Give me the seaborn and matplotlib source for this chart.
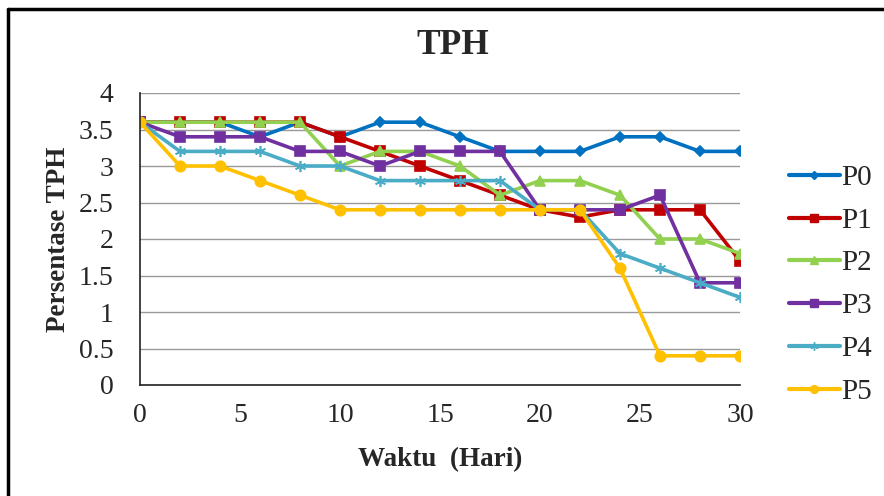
import matplotlib
matplotlib.use("Agg")
import matplotlib.pyplot as plt
import matplotlib.ticker as tkr
from matplotlib.lines import Line2D
import pandas as pd
import seaborn as sns

hari = [0, 2, 4, 6, 8, 10, 12, 14, 16, 18, 20, 22, 24, 26, 28, 30]
p0 = [3.6, 3.6, 3.6, 3.4, 3.6, 3.4, 3.6, 3.6, 3.4, 3.2, 3.2, 3.2, 3.4, 3.4, 3.2, 3.2]
p1 = [3.6, 3.6, 3.6, 3.6, 3.6, 3.4, 3.2, 3.0, 2.8, 2.6, 2.4, 2.3, 2.4, 2.4, 2.4, 1.7]
p2 = [3.6, 3.6, 3.6, 3.6, 3.6, 3.0, 3.2, 3.2, 3.0, 2.6, 2.8, 2.8, 2.6, 2.0, 2.0, 1.8]
p3 = [3.6, 3.4, 3.4, 3.4, 3.2, 3.2, 3.0, 3.2, 3.2, 3.2, 2.4, 2.4, 2.4, 2.6, 1.4, 1.4]
p4 = [3.6, 3.2, 3.2, 3.2, 3.0, 3.0, 2.8, 2.8, 2.8, 2.8, 2.4, 2.4, 1.8, 1.6, 1.4, 1.2]
p5 = [3.6, 3.0, 3.0, 2.8, 2.6, 2.4, 2.4, 2.4, 2.4, 2.4, 2.4, 2.4, 1.6, 0.4, 0.4, 0.4]

labels = ["P0", "P1", "P2", "P3", "P4", "P5"]
series = [p0, p1, p2, p3, p4, p5]
colors = {"P0": "#0070C0", "P1": "#C00000", "P2": "#92D050",
          "P3": "#7030A0", "P4": "#4BACC6", "P5": "#FFC000"}
markers = {"P0": "D", "P1": "s", "P2": "^", "P3": "s", "P4": (6, 2, 0), "P5": "o"}
msizes = {"P0": 5.5, "P1": 7, "P2": 7.5, "P3": 7, "P4": 8, "P5": 7.5}

df = pd.DataFrame({
    "Hari": hari * len(labels),
    "TPH": sum(series, []),
    "Perlakuan": [lab for lab in labels for _ in hari],
})

sns.set_style("white")
plt.rcParams["font.family"] = ["Liberation Serif", "DejaVu Serif"]

fig = plt.figure(figsize=(8.84, 4.96), dpi=100)
ax = fig.add_axes([140 / 884, 1 - 385 / 496, 600 / 884, 292 / 496])

for lab in labels:
    sub = df[df["Perlakuan"] == lab]
    sns.lineplot(data=sub, x="Hari", y="TPH", ax=ax, color=colors[lab],
                 marker=markers[lab], markersize=msizes[lab], linewidth=2.6,
                 markeredgecolor=colors[lab], markeredgewidth=1.2, label=lab)

ax.set_xlim(0, 30)
ax.set_ylim(0, 4)
ax.set_xticks([0, 5, 10, 15, 20, 25, 30])
ax.set_yticks([0, 0.5, 1, 1.5, 2, 2.5, 3, 3.5, 4])
ax.yaxis.set_major_formatter(tkr.FuncFormatter(lambda y, p: "{:g}".format(y)))
ax.tick_params(axis="both", labelsize=20, length=0)
ax.tick_params(axis="x", pad=13)
ax.tick_params(axis="y", pad=19)
ax.grid(axis="y", color="#999999", linewidth=1)
ax.set_axisbelow(True)
for s in ["top", "right"]:
    ax.spines[s].set_visible(False)
for s in ["left", "bottom"]:
    ax.spines[s].set_color("#222222")
    ax.spines[s].set_linewidth(1.2)

ax.set_xlabel("Waktu  (Hari)", fontsize=19.5, fontweight="bold", labelpad=14)
ax.set_ylabel("Persentase TPH", fontsize=19.5, fontweight="bold", labelpad=6)
fig.text(453 / 884, 1 - 45 / 496, "TPH", ha="center", va="center",
         fontsize=25.5, fontweight="bold")

ax.get_legend().remove()
handles = [Line2D([], [], color=colors[lab], marker=markers[lab],
                  markersize=msizes[lab] * 0.75, linewidth=3) for lab in labels]
fig.legend(handles, labels, loc="upper left", frameon=False, borderpad=0,
           bbox_to_anchor=(774 / 884, 1 - 150 / 496), fontsize=21,
           handlelength=1.75, handletextpad=0.05, labelspacing=0.56)

# outer frame (left and top edges only visible in the reference)
fig.add_artist(Line2D([8 / 884, 8 / 884], [0, 1 - 9 / 496], color="black",
                      linewidth=2.5, transform=fig.transFigure))
fig.add_artist(Line2D([8 / 884, 1], [1 - 9 / 496, 1 - 9 / 496], color="black",
                      linewidth=2.5, transform=fig.transFigure))

fig.savefig("out.png", dpi=100)
